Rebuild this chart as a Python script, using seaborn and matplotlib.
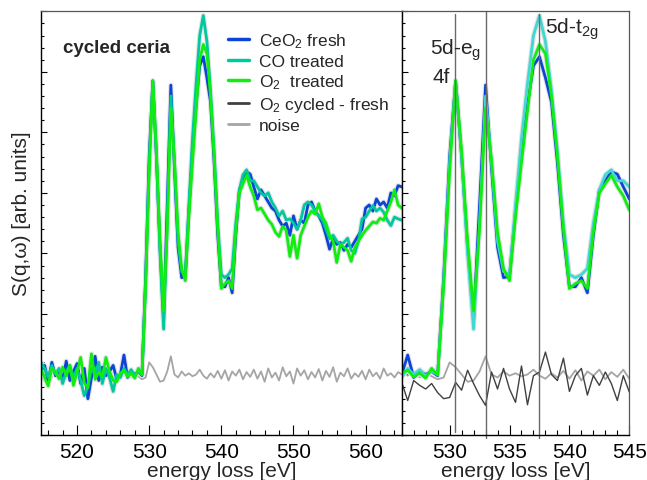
import numpy as np
import matplotlib
matplotlib.use("Agg")
import matplotlib.pyplot as plt
import seaborn as sns
from matplotlib.lines import Line2D
from matplotlib.ticker import MultipleLocator, NullFormatter

# --------------------------
# data (arb. units)
# --------------------------
energy = np.arange(515.0, 565.01, 0.5)
diff_energy = np.arange(525.5, 545.01, 0.5)

fresh = [
    1.05, 1.15, 0.88, 1.20, 0.98, 1.05, 0.92, 1.22, 0.90, 1.05,
    1.18, 0.85, 1.10, 0.60, 0.95, 1.30, 0.90, 1.12, 0.98, 1.05,
    1.15, 0.92, 1.00, 1.32, 0.95, 1.05, 1.00, 1.05, 0.98, 2.60,
    4.60, 5.85, 4.60, 3.10, 1.90, 3.80, 5.78, 4.40, 3.10, 2.60,
    2.62, 3.70, 4.70, 5.45, 6.10, 6.25, 5.90, 5.50, 4.50, 3.30,
    2.45, 2.45, 2.60, 2.35, 3.30, 4.05, 4.20, 4.35, 4.31, 4.10,
    3.90, 4.05, 3.95, 3.85, 3.75, 3.70, 3.55, 3.45, 3.50, 3.30,
    3.62, 3.40, 3.55, 3.50, 3.80, 3.85, 3.70, 3.62, 3.50, 3.30,
    3.07, 3.25, 3.15, 3.18, 3.05, 3.15, 3.10, 3.20, 3.30, 3.40,
    3.75, 3.80, 3.70, 3.90, 3.80, 3.85, 3.75, 4.00, 3.95, 4.12,
    4.10,
]
co_treated = [
    1.20, 1.10, 0.95, 1.15, 1.00, 1.10, 0.85, 1.05, 1.15, 0.95,
    1.10, 0.90, 0.65, 0.80, 1.10, 1.00, 1.20, 0.85, 1.10, 0.95,
    0.72, 1.00, 0.95, 1.10, 1.00, 1.08, 0.98, 1.05, 1.00, 2.50,
    4.50, 5.85, 4.60, 3.00, 1.75, 3.50, 5.60, 4.50, 3.20, 2.70,
    2.65, 3.80, 4.90, 5.80, 6.60, 6.93, 6.50, 5.70, 4.70, 3.50,
    2.65, 2.60, 2.65, 2.75, 3.50, 4.05, 4.30, 4.38, 4.20, 4.20,
    4.10, 4.00, 3.95, 4.00, 3.85, 3.75, 3.62, 3.70, 3.55, 3.57,
    3.50, 3.40, 3.55, 3.80, 3.85, 3.80, 3.70, 3.62, 3.55, 3.40,
    3.24, 3.30, 3.20, 3.15, 3.18, 3.25, 3.05, 3.00, 3.20, 3.57,
    3.60, 3.70, 3.79, 3.70, 3.75, 3.68, 3.55, 3.46, 3.60, 3.57,
    3.55,
]
o2_treated = [
    1.09, 0.95, 0.81, 1.10, 1.05, 0.93, 1.12, 0.98, 1.15, 0.82,
    1.05, 1.28, 0.86, 0.78, 1.34, 0.92, 1.04, 0.96, 1.28, 1.05,
    0.90, 0.88, 1.02, 1.07, 0.96, 1.02, 0.94, 1.10, 0.99, 2.45,
    4.35, 5.85, 4.70, 3.20, 2.05, 3.40, 5.40, 4.55, 3.35, 2.75,
    2.55, 3.60, 4.50, 5.35, 6.20, 6.45, 6.30, 5.60, 4.60, 3.40,
    2.42, 2.50, 2.55, 2.42, 3.35, 4.00, 4.15, 4.29, 4.10, 3.95,
    3.72, 3.75, 3.65, 3.55, 3.48, 3.35, 3.28, 3.45, 3.38, 2.95,
    3.30, 2.92, 3.30, 3.45, 3.60, 3.70, 3.65, 3.82, 3.60, 3.50,
    3.30, 3.20, 2.85, 3.15, 3.10, 3.05, 2.87, 3.10, 3.20, 3.30,
    3.38, 3.45, 3.52, 3.50, 3.58, 3.55, 3.70, 3.85, 4.05, 3.80,
    3.75,
]
noise = [
    1.00, 0.88, 1.10, 0.95, 1.05, 0.90, 1.08, 0.93, 1.12, 0.85,
    1.00, 1.10, 0.92, 1.05, 0.88, 1.02, 1.08, 0.95, 1.04, 0.90,
    1.06, 0.97, 1.04, 0.98, 1.06, 0.95, 1.02, 0.97, 0.92, 0.95,
    1.20, 1.12, 1.00, 0.88, 0.90, 1.05, 1.30, 1.00, 0.95, 1.05,
    0.98, 1.02, 0.97, 1.00, 1.08, 0.98, 0.93, 1.02, 0.95, 1.06,
    0.93, 1.07, 0.90, 1.05, 0.98, 1.08, 0.92, 1.04, 0.96, 1.08,
    0.93, 1.05, 0.88, 1.10, 0.95, 1.03, 0.90, 1.12, 0.97, 1.05,
    0.85, 1.10, 0.98, 1.07, 0.92, 1.04, 0.95, 1.09, 0.90, 1.06,
    0.96, 1.12, 0.88, 1.03, 0.97, 1.10, 0.93, 1.02, 0.96, 1.06,
    0.92, 1.08, 0.97, 1.03, 0.93, 1.10, 0.98, 1.02, 0.95, 1.04,
    1.00,
]
cycled_minus_fresh = [
    0.95, 0.87, 0.57, 0.90, 0.82, 0.76, 0.85, 0.70, 0.60, 0.62,
    0.87, 0.74, 1.07, 0.85, 0.65, 0.49, 1.04, 0.76, 1.10, 0.76,
    0.54, 1.14, 0.50, 0.98, 1.04, 1.37, 1.00, 0.90, 1.27, 0.72,
    0.98, 1.10, 0.66, 0.98, 0.82, 1.04, 0.85, 0.57, 0.98, 0.71,
]

# marker lines in the zoomed panel
line_pos = [530.42, 533.03, 537.5]

c_fresh = "#0c44d8"
c_co = "#00c8a0"
c_co_zoom = "#3fd8d2"
c_o2 = "#10ee10"
c_diff = "#404040"
c_noise = "#a5a5a5"

# --------------------------
# style
# --------------------------
sns.set_theme(style="ticks")
plt.rcParams["font.family"] = ["Liberation Sans", "DejaVu Sans"]
plt.rcParams["mathtext.fontset"] = "custom"
plt.rcParams["mathtext.rm"] = "Liberation Sans"
plt.rcParams["mathtext.default"] = "regular"

W, H = 647, 481
fig = plt.figure(figsize=(W / 100, H / 100), dpi=100)
bottom, top = 436, 12.3
ax1 = fig.add_axes([41 / W, 1 - bottom / H, (401.7 - 41) / W, (bottom - top) / H])
ax2 = fig.add_axes([401.7 / W, 1 - bottom / H, (629.3 - 401.7) / W, (bottom - top) / H])


def draw_spectra(ax, co_color):
    sns.lineplot(x=energy, y=noise, ax=ax, color=c_noise, linewidth=1.3)
    for vals in (fresh, co_treated, o2_treated):
        sns.lineplot(x=energy, y=vals, ax=ax, color="#e2e2e2", linewidth=3.6)
    sns.lineplot(x=energy, y=fresh, ax=ax, color=c_fresh, linewidth=2.0)
    sns.lineplot(x=energy, y=co_treated, ax=ax, color=co_color, linewidth=2.0)
    sns.lineplot(x=energy, y=o2_treated, ax=ax, color=c_o2, linewidth=2.0)


draw_spectra(ax1, c_co)
draw_spectra(ax2, c_co_zoom)
sns.lineplot(x=diff_energy, y=cycled_minus_fresh, ax=ax2, color=c_diff, linewidth=1.0)

for ax in (ax1, ax2):
    ax.set_ylim(0, 7)
    ax.yaxis.set_major_locator(MultipleLocator(1))
    ax.yaxis.set_minor_locator(MultipleLocator(0.2))
    ax.yaxis.set_major_formatter(NullFormatter())
    ax.tick_params(axis="both", which="both", direction="in", top=False, right=False,
                   colors="black", labelsize=15, pad=5)
    ax.tick_params(axis="x", which="major", length=7, width=0.8)
    ax.tick_params(axis="x", which="minor", length=3.5, width=0.8)
    ax.tick_params(axis="y", which="major", length=4.5, width=0.8)
    ax.tick_params(axis="y", which="minor", length=2.5, width=0.8)
    ax.set_xlabel("energy loss [eV]", fontsize=15, labelpad=0)
    ax.set_ylabel("")
    for side in ("left", "bottom"):
        ax.spines[side].set_color("black")
        ax.spines[side].set_linewidth(1.0)
    for side in ("top", "right"):
        ax.spines[side].set_color("#555555")
        ax.spines[side].set_linewidth(0.9)

ax1.set_xlim(515, 565)
ax1.xaxis.set_major_locator(MultipleLocator(10))
ax1.xaxis.set_minor_locator(MultipleLocator(2))
ax2.set_xlim(526, 545)
ax2.xaxis.set_major_locator(MultipleLocator(5))
ax2.xaxis.set_minor_locator(MultipleLocator(1))

fig.text(22 / W, 1 - 214 / H, "S(q,ω) [arb. units]", rotation=90,
         ha="center", va="center", fontsize=15)

ax2.axvline(line_pos[0], ymin=0.007, ymax=0.993, color="#6a6a6a", lw=1.0, clip_on=False)
ax2.axvline(line_pos[1], ymin=-0.007, ymax=1.0, color="#6a6a6a", lw=1.0, clip_on=False)
ax2.axvline(line_pos[2], ymin=-0.007, ymax=0.993, color="#6a6a6a", lw=1.0, clip_on=False)
ax2.text(528.4, 6.3, "5d-e$_g$", fontsize=15, ha="left", va="baseline")
ax2.text(528.55, 5.83, "4f", fontsize=15, ha="left", va="baseline")
ax2.text(537.95, 6.65, "5d-t$_{2g}$", fontsize=15, ha="left", va="baseline")

ax1.text(0.06, 0.905, "cycled ceria", transform=ax1.transAxes, fontsize=13.5,
         fontweight="bold", ha="left", va="baseline")

handles = [
    Line2D([], [], color=c_fresh, lw=2.5),
    Line2D([], [], color=c_co, lw=2.5),
    Line2D([], [], color=c_o2, lw=2.5),
    Line2D([], [], color=c_diff, lw=2.0),
    Line2D([], [], color=c_noise, lw=2.0),
]
labels = ["CeO$_2$ fresh", "CO treated", "O$_2$  treated", "O$_2$ cycled - fresh", "noise"]
fig.legend(handles, labels, loc="upper left", bbox_to_anchor=(228 / W, 1 - 32 / H),
           frameon=False, fontsize=12.5, handlelength=1.2, handletextpad=0.6,
           labelspacing=0.22, borderpad=0, borderaxespad=0)

fig.savefig("out.png", dpi=100)
